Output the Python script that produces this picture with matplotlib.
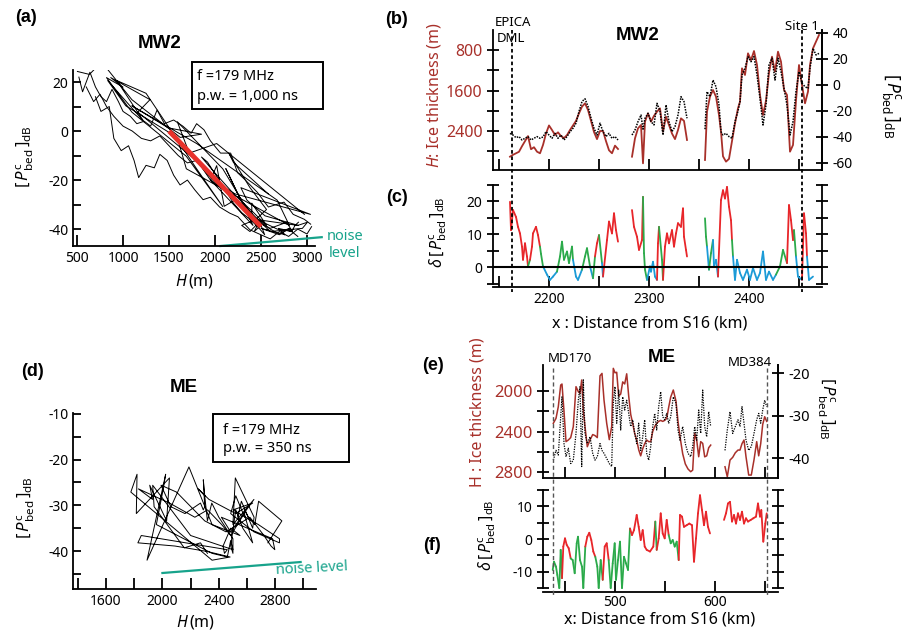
import numpy as np
import matplotlib
matplotlib.use('Agg')
import matplotlib.pyplot as plt
from matplotlib.collections import LineCollection
from matplotlib.patches import Rectangle
from matplotlib.lines import Line2D
import matplotlib.transforms as mtransforms
from matplotlib.ticker import FixedLocator

plt.rcParams['font.family'] = ['Noto Sans', 'DejaVu Sans']
plt.rcParams['mathtext.fontset'] = 'custom'
plt.rcParams['mathtext.rm'] = 'Noto Sans'
plt.rcParams['mathtext.it'] = 'Noto Sans:italic'
plt.rcParams['mathtext.bf'] = 'Noto Sans:bold'
plt.rcParams['axes.linewidth'] = 1.3
plt.rcParams['axes.unicode_minus'] = False

nan = np.nan

# ---------------- MW2 profile (panels a, b) ----------------
mw2_x = [2161, 2164, 2167, 2170, 2173, 2176, 2179, 2182, 2185, 2188, 2191, 2194, 2197, 2200,
         2203, 2206, 2209, 2212, 2215, 2218, 2221, 2224, 2227, 2230, 2233, 2236, 2239, 2242,
         2245, 2248, 2251, 2254, 2257, 2260, 2263, 2266, 2269, 2276,
         2283, 2286, 2289, 2292, 2294, 2296, 2299, 2302, 2305, 2308, 2311, 2314, 2317, 2320,
         2323, 2326, 2329, 2332, 2335, 2338, 2347,
         2356, 2358, 2361, 2364, 2367, 2370, 2372, 2374, 2377, 2380, 2383, 2386, 2389, 2391,
         2393, 2396, 2399, 2402, 2405, 2408, 2411, 2414, 2417, 2420, 2423, 2426, 2429, 2432,
         2435, 2438, 2441, 2444, 2447, 2450, 2453, 2456, 2459, 2461, 2464, 2467, 2470]
mw2_H = [2907, 2870, 2840, 2810, 2700, 2600, 2500, 2760, 2720, 2808, 2840, 2676, 2450, 2290,
         2380, 2478, 2426, 2500, 2540, 2480, 2380, 2290, 2200, 2050, 1919, 1853, 1985, 2200,
         2420, 2560, 2400, 2400, 2600, 2780, 2840, 2689, 2755, nan,
         2907, 2544, 2347, 2281, 3038, 2215, 2051, 2215, 2100, 2018, 1952, 2413, 2117, 2281,
         2450, 2560, 2380, 2150, 2200, 2577, nan,
         2972, 2018, 1720, 1590, 1722, 2084, 2413, 2900, 3005, 2950, 2600, 2250, 1950, 1820,
         1162, 1293, 866, 1000, 820, 1096, 1688, 2084, 1800, 1250, 932, 1228, 833, 1030,
         1589, 1688, 2808, 2676, 1800, 1096, 1491, 1853, 1622, 1096, 767, 635, 504]
mw2_P = [-37.2, -38.5, -40.5, -39.7, -42.3, -41.0, -39.7, -42.3, -41.0, -39.7, -41.0, -40.0, -35.9, -38.5,
         -41.0, -37.2, -41.0, -38.5, -42.3, -39.7, -36.0, -33.3, -29.4, -20.4, -12.7, -10.6, -16.5, -25.5,
         -33.3, -38.5, -29.4, -35.9, -39.7, -37.2, -41.0, -39.7, -42.3, nan,
         -38.5, -34.6, -28.2, -23.1, -34.0, -25.6, -21.8, -28.2, -30.7, -14.1, -20.0, -38.5, -15.3, -28.2,
         -35.9, -32.0, -23.1, -9.0, -12.8, -25.6, nan,
         -34.0, -5.1, -9.0, 3.8, -1.3, -15.4, -35.9, -38.5, -37.2, -39.7, -41.0, -28.2, -20.0, -12.8,
         7.7, 12.8, 21.8, 17.9, 21.8, 7.7, -10.3, -30.8, -15.4, 15.4, 20.6, 3.8, 20.6, 10.3,
         -2.6, -15.4, -38.5, -28.2, -5.1, 10.3, 1.3, -1.3, -2.6, 12.8, 28.2, 23.1, 24.3]

# other MW2 traces visible in panel a
a_upper_H = [520, 560, 640, 700, 760, 820, 880, 950, 1000, 1080, 1150, 1230, 1300, 1370, 1450, 1550,
             1650, 1740, 1800, 1880, 1950, 2060, 2170, 2245, 2330, 2460, 2580, 2750, 2850, 2970, 3040]
a_upper_P = [22, 16, 24, 18, 14, 12, 17, 12, 8, 6, 3, 4, 2, 8.6, 3, 4.5,
             2, -0.9, 3, 0.5, -4, -9, -9, -17, -20, -25, -31, -29, -34, -36, -38]
a_lower_H = [700, 760, 850, 900, 980, 1060, 1120, 1170, 1250, 1340, 1400, 1480, 1550, 1620, 1700,
             1780, 1870, 1950, 2050, 2160, 2250, 2380, 2480, 2600, 2700, 2800, 2900, 3000, 3050]
a_lower_P = [14, 8, 10, -3, -8, -6, -12, -19, -14, -15, -9.5, -12, -18, -22, -20,
             -24, -28, -27, -31, -33.5, -35, -40.3, -42, -44, -41, -43, -40, -42, -39]
a_mid_H = [600, 680, 750, 820, 900, 1000, 1100, 1200, 1300, 1400, 1500, 1600, 1700, 1800, 1900,
           2000, 2100, 2200, 2300, 2400, 2500, 2600, 2700, 2800, 2900]
a_mid_P = [18, 12, 15, 10, 6, 2, 0, -3, -4, -2, -6, -10, -13, -12, -17,
           -21, -24, -26, -31, -34, -37, -40, -42, -40, -43]

# fitted trend and noise level (panel a)
fit_H = [1500, 2500]
fit_P = [0, -39]
noise_a_H = [2060, 3160]
noise_a_P = [-46.9, -43.3]

# ---------------- delta P MW2 (panel c) ----------------
c_x = [2161, 2162, 2164, 2167, 2169, 2171, 2173, 2174, 2176, 2178, 2179, 2181, 2183, 2184, 2187, 2189,
       2191, 2192, 2194, 2198, 2201, 2204, 2208, 2211, 2213, 2215, 2218, 2220, 2223, 2224, 2227, 2229,
       2233, 2236, 2238, 2241, 2244, 2246, 2248, 2250, 2253, 2254, 2258, 2260, 2263, 2265, 2267, 2269,
       2276,
       2283, 2285, 2288, 2290, 2293, 2294, 2295, 2296, 2298, 2301, 2302, 2304, 2306, 2308, 2309, 2310,
       2313, 2314, 2316, 2318, 2320, 2323, 2325, 2327, 2329, 2332, 2334, 2335, 2337, 2338,
       2347,
       2356, 2357, 2358, 2360, 2362, 2364, 2365, 2367, 2369, 2372, 2374, 2376, 2378, 2380, 2382, 2383,
       2384, 2386, 2388, 2391, 2394, 2398, 2401, 2404, 2408, 2411, 2414, 2417, 2420, 2424, 2427, 2431,
       2434, 2438, 2440, 2442, 2444, 2445, 2447, 2449, 2453, 2455, 2457, 2458, 2460, 2464]
c_val = [19.8, 11.2, 17.3, 15.2, 12.2, 10.2, 6.2, 2.2, 7.2, 3.2, 0.2, 2.2, 6.2, 10.2, 12.2, 9.7,
         6.2, 4.0, 0.2, -2.3, -3.9, -2.9, -1.4, 3.2, 7.7, 2.2, 4.7, 1.2, 6.2, 2.2, -2.9, -3.9,
         -0.8, 3.2, 5.7, 0.2, -3.4, 3.2, 7.2, 9.7, 1.2, -2.9, 8.2, 13.8, 10.2, 16.3, 11.2, 7.7,
         nan,
         17.3, 12.2, 9.2, 5.2, 8.2, 21.3, 4.2, -0.8, -3.9, 0.2, -1.4, 1.6, -2.9, -3.9, 7.2, 12.2,
         2.2, -3.9, 6.2, 10.2, 7.2, 11.2, 6.2, 10.2, 13.3, 12.2, 17.8, 9.2, 5.2, 3.2,
         nan,
         14.8, 9.2, 6.2, -0.8, 4.2, 8.2, 0.2, 2.2, -2.9, 20.3, 23.3, 20.8, 24.3, 18.3, 14.2, 8.2,
         3.2, -3.9, 2.2, -1.8, -3.9, -0.8, -3.9, -0.3, -3.9, -1.8, 4.7, -3.9, -1.4, -3.9, -2.3, 0.2,
         5.2, 1.2, 18.8, 14.2, 8.2, 11.2, 3.2, -2.9, -3.9, 16.3, 10.2, 3.2, -3.9, -2.9]
c_cls = list('r' * 11 + 'g' + 'r' * 5 + 'g' * 2
             + 'b' * 4 + 'g' * 7 + 'b' * 3 + 'g' * 3 + 'b' + 'g' + 'r' * 2 + 'g' + 'b' + 'r' * 6
             + 'r'
             + 'r' * 6 + 'g' * 3 + 'b' * 5 + 'r' * 2 + 'g' * 2 + 'r' * 12
             + 'r'
             + 'r' + 'g' * 2 + 'b' + 'g' * 2 + 'b' * 3 + 'r' * 7
             + 'g' + 'b' * 14 + 'g'
             + 'g' * 2 + 'r' * 4 + 'g' + 'b' * 2 + 'r' * 3 + 'b' * 2)

# ---------------- ME profile (panels d, e) ----------------
me_x = [438.3, 441, 443.3, 445.7, 447, 449, 451, 453.3, 455.7, 458.3, 461, 463.3, 465, 466.7, 468.3,
        470, 472.3, 475, 477.7, 480, 482.3, 485, 487, 489, 491.7, 494.3, 496.7, 498.3, 500, 501.7,
        503.7, 505.7, 507.7, 509.7, 511.7, 513.7, 515.7, 517.7, 519.7, 521.7, 523.7, 525.7, 527.7,
        529.7, 531.7, 533.7, 535.7, 537.7, 539.7, 541.7, 543.7, 545.7, 547.7, 549.7, 551.7, 553.7,
        555.7, 558.3, 561, 563, 565, 567.7, 570.3, 573, 575.7, 577.7, 579.7, 581.7, 583.7, 585.7,
        587.7, 589.7, 591.7, 593.7, 595.7, 603,
        610, 612.3, 615, 617.7, 620.3, 623, 625, 627, 629, 631, 633.7, 636.3, 639, 641.7, 643.7,
        645.7, 647.7, 649.7, 651.7]
me_H = [2319, 2270, 2155, 1941, 1931, 2200, 2500, 2484, 2460, 2352, 1957, 2006, 2023, 1891, 2188,
        2352, 2550, 2484, 2430, 2440, 2460, 1850, 1826, 2089, 2319, 2480, 2352, 1776, 1820, 1815,
        2050, 2030, 1910, 1930, 1830, 2050, 2230, 2320, 2420, 2484, 2580, 2640, 2570,
        2520, 2484, 2500, 2500, 2400, 2350, 2319, 2300, 2290, 2300, 2290, 2270, 2160,
        2060, 1990, 2100, 2300, 2451, 2620, 2720, 2770, 2797, 2781, 2418, 2484, 2649, 2500,
        2517, 2650, 2640, 2560, 2534, nan,
        2748, 2847, 2682, 2655, 2610, 2583, 2583, 2520, 2484, 2649, 2830, 2830, 2680, 2500, 2640,
        2520, 2330, 2254, 2300]
me_P = [-40.5, -38.2, -39.3, -30.3, -25.6, -36.6, -39.7, -37.7, -41.3, -40.5, -34.2, -26.4, -23.2, -42.0, -21.6,
        -34.2, -36.6, -35.0, -38.9, -40.5, -39.7, -36.6, -38.2, -38.9, -40.1, -41.3, -42.0, -27.1, -23.2, -31.8,
        -24.0, -33.4, -25.6, -28.7, -26.4, -29.5, -32.6, -31.0, -34.2, -36.6, -31.8, -38.2, -35.0,
        -31.0, -38.9, -40.5, -37.3, -32.6, -29.5, -33.4, -27.9, -24.4, -30.3, -31.0, -29.5, -31.8,
        -30.3, -25.6, -27.1, -33.4, -35.8, -32.6, -36.6, -38.9, -39.7, -37.3, -32.6, -35.8, -28.7, -34.2,
        -24.0, -32.6, -35.0, -29.1, -32.6, nan,
        -38.2, -33.4, -29.1, -34.2, -32.6, -31.0, -32.6, -27.9, -31.8, -35.8, -38.2, -37.3, -34.2, -31.0, -29.5,
        -31.8, -28.7, -26.4, -27.9]
noise_d_H = [2000, 2980]
noise_d_P = [-44.8, -42.4]

# ---------------- delta P ME (panel f) ----------------
f_x = [437.7, 439, 441, 442.3, 444.3, 445.7, 447, 448.3, 450, 451.7, 453.7, 455.7, 457.7, 459.7, 461.7,
       463, 465, 467, 468.3, 470.3, 472.3, 474.3, 476.3, 478.3, 480.3, 482.3, 483.7, 485.7, 487.7,
       489.7, 491.7, 493.7, 495.7, 497.7, 499.7, 501, 503, 505, 507, 509, 511, 513, 515, 517, 519,
       521.7, 523.7, 525.7, 527.7, 529.7, 531.7, 535, 538.3, 540.3, 541.7, 543.7, 545.7, 547.7, 549.7,
       551.7, 553.7, 555.7, 557.7, 559.7, 561.7, 563.7, 565, 567, 569, 571.7, 574.3, 577, 579, 581,
       583, 585, 587, 589, 591, 593, 595, 602,
       609, 611, 613, 615, 617, 619, 621, 623, 625, 627, 629, 631, 633, 635.7, 638.3, 641, 643, 645,
       646.3, 648.3, 650.3, 651.7]
f_val = [-9.4, -6.9, -8.4, -10.9, -14.9, -3.3, -11.9, -2.3, 0.2, -1.8, -2.8, -5.9, -6.4, -10.4, -1.3,
         0.7, -6.4, -8.4, -14.9, -2.3, 0.7, 1.9, -0.3, -3.8, -5.4, -8.4, -14.9, -6.4, -12.4,
         -2.3, -1.3, -6.4, -14.9, -7.4, -1.3, -12.4, -6.4, -0.8, -14.9, -5.4, -7.4, -9.4, 3.2, 1.2, 2.7,
         7.3, 3.7, -0.3, 2.7, -2.3, -3.3, -3.8, -2.3, 5.3, -3.3, 0.2, 7.8, 1.7, 0.2,
         5.8, 1.2, -1.3, -0.3, -2.3, -0.8, -6.4, 7.3, 6.8, 3.7, 4.2, 4.7, 4.2, -6.9, 0.2,
         7.8, 13.3, 8.8, 4.2, 8.3, 3.7, 1.7, nan,
         5.8, 7.8, 10.8, 11.3, 5.3, 7.3, 4.7, 7.8, 5.8, 8.3, 4.7, 6.3, 5.3, 5.8, 6.3, 6.8, 10.8, 6.8,
         8.8, -0.8, 4.7, 7.8]
f_cls = list('g' * 7 + 'r' * 5 + 'g' * 8 + 'r' * 5 + 'g' * 4 + 'r' * 3 + 'g' * 11 + 'r' * 11 + 'g'
             + 'r' * 6 + 'g' * 5 + 'r' * 15 + 'r' + 'r' * 22)

# site markers
mw2_sites_x = [2163, 2453]
me_sites_x = [438, 652]

# ------------------------------------------------------------------
W, Hh = 907, 637
fig = plt.figure(figsize=(W / 100, Hh / 100), dpi=100)

def add_ax(l, t, r, b):
    return fig.add_axes([l / W, 1 - b / Hh, (r - l) / W, (b - t) / Hh])

def ftxt(px, py, s, **kw):
    kw.setdefault('ha', 'center')
    kw.setdefault('va', 'center')
    return fig.text(px / W, 1 - py / Hh, s, **kw)

RED_H = '#A8302A'
TEAL = '#17A38B'
CR, CG, CB = '#E8262A', '#2BAA4A', '#1C9BD7'
cmap = {'r': CR, 'g': CG, 'b': CB}
PLAB = r'$[\,P^{\mathrm{c}}_{\mathrm{bed}}\,]_{\mathrm{dB}}$'
DPLAB = r'$\delta\,[\,P^{\mathrm{c}}_{\mathrm{bed}}\,]_{\mathrm{dB}}$'

def style(ax, keep=('left', 'bottom')):
    for s in ['left', 'right', 'top', 'bottom']:
        ax.spines[s].set_visible(s in keep)
    ax.patch.set_alpha(0)

def colored(ax, x, y, cls):
    n = min(len(x), len(y), len(cls))
    segs, cols = [], []
    for i in range(n - 1):
        if np.isnan(y[i]) or np.isnan(y[i + 1]):
            continue
        segs.append([(x[i], y[i]), (x[i + 1], y[i + 1])])
        cols.append(cmap[cls[i + 1]])
    ax.add_collection(LineCollection(segs, colors=cols, linewidths=1.3, capstyle='round'))

# ---------------- panel a ----------------
axa = add_ax(73, 70, 315, 246)
style(axa)
axa.plot(mw2_H, mw2_P, color='black', lw=0.7)
axa.plot(a_upper_H, a_upper_P, color='black', lw=0.7)
axa.plot(a_lower_H, a_lower_P, color='black', lw=0.7)
axa.plot(a_mid_H, a_mid_P, color='black', lw=0.7)
axa.plot(fit_H, fit_P, color='#E8312B', lw=3.5, solid_capstyle='butt')
axa.plot(noise_a_H, noise_a_P, color=TEAL, lw=1.6, clip_on=False)
axa.set_xlim(456, 3087)
axa.set_ylim(-46.9, 24.9)
axa.xaxis.set_major_locator(FixedLocator([500, 1000, 1500, 2000, 2500, 3000]))
axa.yaxis.set_major_locator(FixedLocator([-40, -20, 0, 20]))
axa.yaxis.set_minor_locator(FixedLocator([-30, -10, 10]))
axa.tick_params(axis='x', direction='in', length=8, width=1.3, labelsize=10)
axa.tick_params(axis='y', which='both', direction='in', length=6, width=1.3, labelsize=10)
ftxt(26, 18, '(a)', fontsize=13, fontweight='bold', family='Liberation Sans')
ftxt(160, 43, 'MW2', fontsize=13.5, fontweight='bold', family='Liberation Sans')
fig.patches.append(Rectangle((192 / W, 1 - 109 / Hh), 131 / W, 47 / Hh, transform=fig.transFigure,
                             fill=False, lw=1.4, ec='black'))
ftxt(197, 77, 'f =179 MHz', fontsize=10.5, ha='left')
ftxt(197, 97, 'p.w. = 1,000 ns', fontsize=10.5, ha='left')
ftxt(345, 236, 'noise', fontsize=10.5, color=TEAL)
ftxt(345, 253, 'level', fontsize=10.5, color=TEAL)
ftxt(195, 281, r'$H\,$(m)', fontsize=11.5)
ftxt(25, 157, PLAB, fontsize=12, rotation=90)

# ---------------- panel b ----------------
axb = add_ax(493, 30, 822, 170)
style(axb, keep=('left', 'bottom', 'right'))
axb.plot(mw2_x, mw2_H, color=RED_H, lw=1.3)
axb.set_xlim(2144, 2473)
axb.set_ylim(3170, 405)
axb.yaxis.set_major_locator(FixedLocator([800, 1600, 2400]))
axb.yaxis.set_minor_locator(FixedLocator([1200, 2000, 2800]))
axb.tick_params(axis='y', which='both', direction='inout', length=8, width=1.3, labelsize=11.5,
                labelcolor=RED_H)
axb.xaxis.set_major_locator(FixedLocator([2150, 2200, 2250, 2300, 2350, 2400, 2450]))
axb.tick_params(axis='x', direction='in', length=8, width=1.3, labelbottom=False)
axb2 = axb.twinx()
style(axb2, keep=('right',))
axb2.plot(mw2_x, mw2_P, color='black', lw=1.1, ls=(0, (1, 0.8)))
axb2.set_ylim(-65.4, 42.3)
axb2.yaxis.set_major_locator(FixedLocator([-60, -40, -20, 0, 20, 40]))
axb2.tick_params(axis='y', direction='inout', length=8, width=1.3, labelsize=10)
ftxt(397, 19, '(b)', fontsize=13, fontweight='bold', family='Liberation Sans')
ftxt(638, 36, 'MW2', fontsize=13.5, fontweight='bold', family='Liberation Sans')
ftxt(513, 23, 'EPICA', fontsize=9.5)
ftxt(511, 39, 'DML', fontsize=9.5)
ftxt(802, 27, 'Site 1', fontsize=9.5)
ftxt(434, 95, r'$H$: Ice thickness (m)', fontsize=11.5, rotation=90, color=RED_H)
ftxt(892, 106, PLAB, fontsize=12.5, rotation=270)

# ---------------- panel c ----------------
axc = add_ax(493, 184, 822, 287)
style(axc, keep=('left', 'bottom', 'right'))
colored(axc, c_x, c_val, c_cls)
axc.axhline(0, color='black', lw=1.5)
axc.set_xlim(2144, 2473)
axc.set_ylim(-6.06, 25.2)
axc.spines['left'].set_bounds(-5, 25)
axc.spines['right'].set_bounds(-5, 25)
axc.yaxis.set_major_locator(FixedLocator([0, 10, 20]))
axc.yaxis.set_minor_locator(FixedLocator([-5, 5, 15, 25]))
axc.tick_params(axis='y', which='both', direction='inout', length=8, width=1.3, labelsize=10,
                right=True)
axc.xaxis.set_major_locator(FixedLocator([2200, 2300, 2400]))
axc.xaxis.set_minor_locator(FixedLocator([2150, 2250, 2350, 2450]))
axc.tick_params(axis='x', which='both', direction='in', length=8, width=1.3, labelsize=10)
ftxt(397, 197, '(c)', fontsize=13, fontweight='bold', family='Liberation Sans')
ftxt(438, 232, DPLAB, fontsize=11.5, rotation=90)
ftxt(650, 323, 'x : Distance from S16 (km)', fontsize=11.5)

trans_bc = mtransforms.blended_transform_factory(axc.transData, fig.transFigure)
for xs in mw2_sites_x:
    fig.lines.append(Line2D([xs, xs], [1 - 30 / Hh, 1 - 292 / Hh], transform=trans_bc,
                            color='black', lw=1.3, ls=(0, (2, 1.5))))

# ---------------- panel d ----------------
axd = add_ax(73, 413, 316, 589)
style(axd)
axd.plot(me_H, me_P, color='black', lw=0.7)
axd.plot(noise_d_H, noise_d_P, color=TEAL, lw=1.6)
axd.set_xlim(1366, 3089)
axd.set_ylim(-48.3, -9.8)
axd.xaxis.set_major_locator(FixedLocator([1600, 2000, 2400, 2800]))
axd.xaxis.set_minor_locator(FixedLocator([1400, 1800, 2200, 2600, 3000]))
axd.yaxis.set_major_locator(FixedLocator([-40, -30, -20, -10]))
axd.yaxis.set_minor_locator(FixedLocator([-45, -35, -25, -15]))
axd.tick_params(axis='x', which='both', direction='in', length=8, width=1.3, labelsize=10)
axd.tick_params(axis='y', which='both', direction='in', length=6, width=1.3, labelsize=10)
ftxt(32, 371, '(d)', fontsize=13, fontweight='bold', family='Liberation Sans')
ftxt(184, 388, 'ME', fontsize=13.5, fontweight='bold', family='Liberation Sans')
fig.patches.append(Rectangle((213 / W, 1 - 462 / Hh), 136 / W, 48 / Hh, transform=fig.transFigure,
                             fill=False, lw=1.4, ec='black'))
ftxt(223, 430, 'f =179 MHz', fontsize=10.5, ha='left')
ftxt(223, 449, 'p.w. = 350 ns', fontsize=10.5, ha='left')
ftxt(312, 569, 'noise level', fontsize=10.5, color=TEAL, rotation=3)
ftxt(196, 622, r'$H\,$(m)', fontsize=11.5)
ftxt(26, 508, PLAB, fontsize=12, rotation=90)

# ---------------- panel e ----------------
axe = add_ax(543, 365, 778, 478)
style(axe, keep=('left', 'bottom', 'right'))
axe.plot(me_x, me_H, color=RED_H, lw=1.1)
axe.set_xlim(428, 663)
axe.set_ylim(2859, 1743)
axe.yaxis.set_major_locator(FixedLocator([2000, 2400, 2800]))
axe.yaxis.set_minor_locator(FixedLocator([2200, 2600]))
axe.tick_params(axis='y', which='both', direction='inout', length=8, width=1.3, labelsize=12,
                labelcolor=RED_H)
axe.xaxis.set_major_locator(FixedLocator([450, 500, 550, 600, 650]))
axe.tick_params(axis='x', direction='in', length=8, width=1.3, labelbottom=False)
axe2 = axe.twinx()
style(axe2, keep=('right',))
axe2.plot(me_x, me_P, color='black', lw=0.9, ls=(0, (1, 1)))
axe2.set_ylim(-44.7, -18.1)
axe2.yaxis.set_major_locator(FixedLocator([-40, -30, -20]))
axe2.tick_params(axis='y', direction='inout', length=8, width=1.3, labelsize=10.5)
ftxt(433, 366, '(e)', fontsize=13, fontweight='bold', family='Liberation Sans')
ftxt(662, 358, 'ME', fontsize=13.5, fontweight='bold', family='Liberation Sans')
ftxt(570, 358, 'MD170', fontsize=9.5)
ftxt(750, 363, 'MD384', fontsize=9.5)
ftxt(477, 412, 'H : Ice thickness (m)', fontsize=11.5, rotation=90, color=RED_H)
ftxt(826, 408, PLAB, fontsize=12, rotation=270)

# ---------------- panel f ----------------
axf = add_ax(543, 489, 778, 592)
style(axf, keep=('left', 'bottom', 'right'))
colored(axf, f_x, f_val, f_cls)
axf.set_xlim(428, 663)
axf.set_ylim(-16.1, 15.2)
axf.spines['left'].set_bounds(-15, 15)
axf.spines['right'].set_bounds(-15, 15)
axf.yaxis.set_major_locator(FixedLocator([-10, 0, 10]))
axf.yaxis.set_minor_locator(FixedLocator([-15, -5, 5, 15]))
axf.tick_params(axis='y', which='both', direction='inout', length=8, width=1.3, labelsize=10,
                right=True)
axf.xaxis.set_major_locator(FixedLocator([500, 600]))
axf.xaxis.set_minor_locator(FixedLocator([450, 550, 650]))
axf.tick_params(axis='x', which='both', direction='in', length=8, width=1.3, labelsize=10, pad=2)
ftxt(432, 545, '(f)', fontsize=13, fontweight='bold', family='Liberation Sans')
ftxt(487, 535, DPLAB, fontsize=11.5, rotation=90)
ftxt(660, 620, 'x: Distance from S16 (km)', fontsize=11.5)

trans_ef = mtransforms.blended_transform_factory(axf.transData, fig.transFigure)
for xs in me_sites_x:
    fig.lines.append(Line2D([xs, xs], [1 - 368 / Hh, 1 - 597 / Hh], transform=trans_ef,
                            color='#555555', lw=1.0, ls=(0, (3, 2))))

fig.savefig('out.png', dpi=100)
